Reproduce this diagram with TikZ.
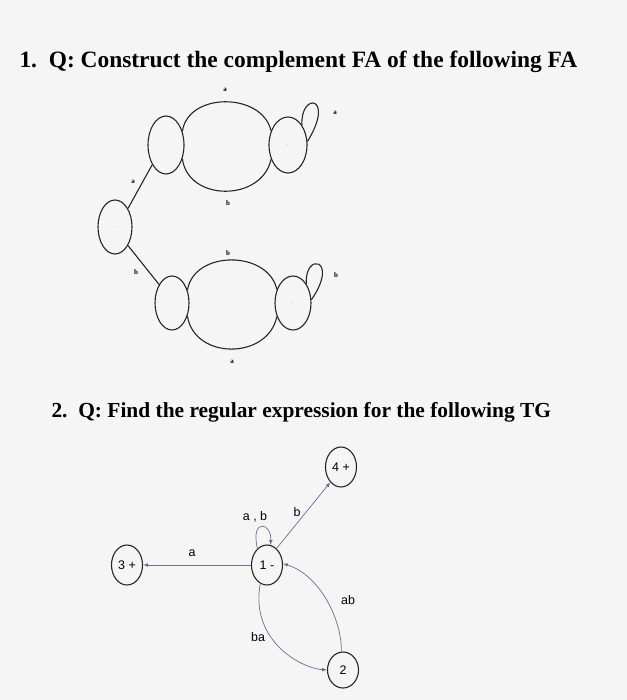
\documentclass[tikz,border=0pt]{standalone}
\usepackage{fontspec}
\usetikzlibrary{shapes.geometric}
\setmainfont{Liberation Serif}
\newfontfamily\arial{Liberation Sans}
\begin{document}
\begin{tikzpicture}[x=1bp,y=-1bp,
  fa/.style={draw=black!85,line width=1.1pt},
  st/.style={draw=black!85,line width=1.1pt,ellipse,inner sep=0pt},
  tg/.style={draw=black!85,line width=1.1pt,ellipse,minimum width=31bp,minimum height=40bp,inner sep=0pt,font=\arial\fontsize{12.5}{13}\selectfont},
  ed/.style={draw=blue!15!gray,line width=0.7pt,-latex},
  lb/.style={font=\arial\fontsize{12.5}{13}\selectfont},
  sl/.style={font=\fontsize{7}{8}\selectfont\bfseries}]
\useasboundingbox[fill=gray!8] (0,0) rectangle (627,700);
\node[anchor=west,font=\fontsize{23.5}{26}\selectfont\bfseries] (t1) at (16,62) {1.\ \ Q: Construct the complement FA of the following FA};
\node[anchor=west,font=\fontsize{21.5}{24}\selectfont\bfseries] (t2) at (48,412) {2.\ \ Q: Find the regular expression for the following TG};
% FA
\node[st,minimum width=36bp,minimum height=58bp] (A) at (166,145) {};
\node[st,minimum width=38bp,minimum height=56bp] (B) at (288,145) {\tiny$\cdot$};
\node[st,minimum width=34bp,minimum height=54bp] (C) at (115,227) {\tiny$\cdot$};
\node[st,minimum width=34bp,minimum height=54bp] (D) at (172,303) {};
\node[st,minimum width=36bp,minimum height=54bp] (E) at (293,303) {\tiny$\cdot$};
\draw[fa] (A.40) .. controls (188,92) and (262,92) .. (B.140);
\draw[fa] (A.-40) .. controls (188,202) and (262,202) .. (B.-140);
\draw[fa] (D.40) .. controls (194,250) and (268,250) .. (E.140);
\draw[fa] (D.-40) .. controls (194,360) and (268,360) .. (E.-140);
\draw[fa] (C.55) -- (A.-125);
\draw[fa] (C.-55) -- (D.125);
\draw[fa] (B.55) .. controls (300,92) and (336,95) .. (B.10);
\draw[fa] (E.55) .. controls (304,252) and (340,258) .. (E.10);
\node[sl] (la1) at (225,90) {a};
\node[sl] (lb1) at (228,203) {b};
\node[sl] (la2) at (335,113) {a};
\node[sl] (la3) at (133,182) {a};
\node[sl] (lb2) at (136,272) {b};
\node[sl] (lb3) at (228,253) {b};
\node[sl] (lb4) at (336,275) {b};
\node[sl] (la4) at (232,362) {a};
% TG
\node[tg] (n4) at (341,467) {4 +};
\node[tg] (n1) at (267,565) {1 -};
\node[tg] (n3) at (127,565) {3 +};
\node[tg,minimum height=36bp] (n2) at (343,670) {2};
\draw[ed] (n1) -- (n3);
\draw[ed] (n1.60) -- (n4.-125);
\draw[ed] (n1.120) .. controls (250,518) and (272,522) .. (n1.80);
\draw[ed] (n1.-110) .. controls (250,640) and (300,668) .. (n2.180);
\draw[ed] (n2.95) .. controls (342,620) and (320,575) .. (n1.5);
\node[lb] (l1) at (192,553) {a};
\node[lb] (l2) at (297,512) {b};
\node[lb] (l3) at (255,517) {a , b};
\node[lb] (l4) at (258,637) {ba};
\node[lb] (l5) at (348,600) {ab};
\end{tikzpicture}
\end{document}
